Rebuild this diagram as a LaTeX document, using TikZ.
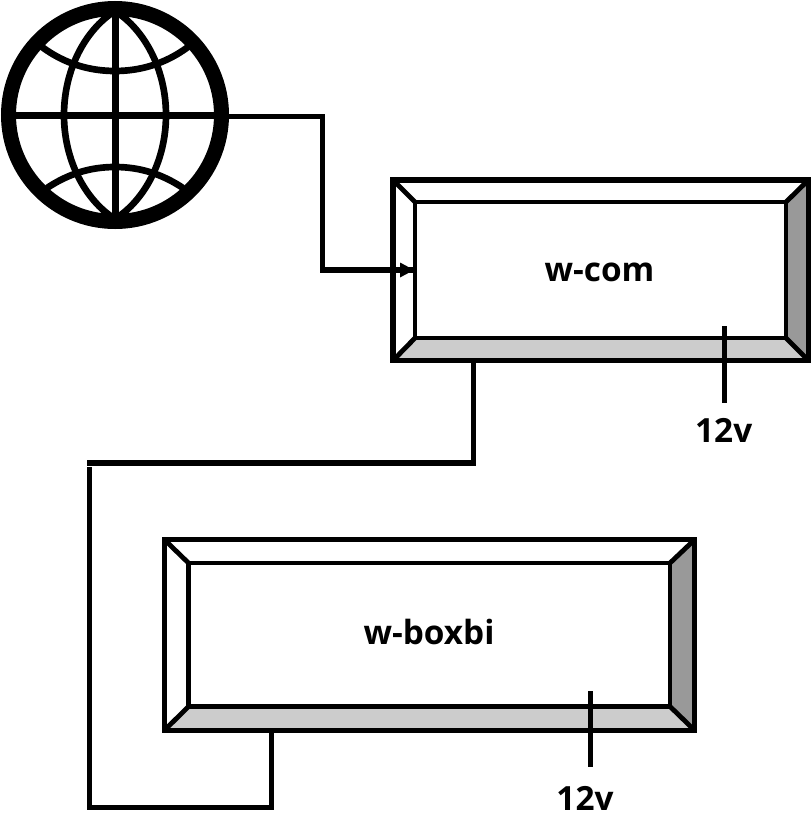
\documentclass[tikz,border=0pt]{standalone}
\usepackage{fontspec}
\setmainfont{Open Sans}
\usetikzlibrary{arrows.meta,backgrounds}
\tikzset{
  x=0.75pt,y=-0.75pt,
  outerbox/.style={draw=black,line width=3.9pt,inner sep=0pt,outer sep=0pt,rectangle},
  innerbox/.style={draw=black,line width=3.2pt,inner sep=0pt,outer sep=0pt,rectangle},
  wire/.style={line width=3.9pt,draw=black,line cap=butt,miter limit=10},
  bevel/.style={line width=3.6pt,draw=black},
  txt/.style={font=\fontsize{25pt}{30pt}\bfseries,inner sep=0pt,anchor=base},
  grid/.style={line width=5pt,draw=black},
}
\definecolor{bevlight}{HTML}{CCCCCC}
\definecolor{bevdark}{HTML}{999999}
\begin{document}
\begin{tikzpicture}
\useasboundingbox (0,0) rectangle (811,839);
% globe
\node[circle,draw=black,line width=11.25pt,minimum size=159.75pt,inner sep=0pt,outer sep=0pt] (globe) at (115,115) {};
\draw[grid,line width=4.6pt] (9,115.5) -- (221,115.5);
\draw[grid,line width=5.25pt] (115,9) -- (115,221);
\draw[grid] (115,11) .. controls (85,30) and (64,70) .. (64,115) .. controls (64,160) and (85,200) .. (115,219);
\draw[grid] (115,11) .. controls (145,30) and (166,70) .. (166,115) .. controls (166,160) and (145,200) .. (115,219);
\draw[grid] (42,47) .. controls (65,64) and (90,71) .. (115,71) .. controls (140,71) and (165,64) .. (188,47);
\draw[grid] (47,188) .. controls (68,174) and (90,167) .. (115,167) .. controls (140,167) and (162,174) .. (183,188);
% w-com
\node[outerbox,minimum width=311.6pt,minimum height=135.4pt] (comout) at (600.75,270.25) {};
\node[innerbox,minimum width=278.25pt,minimum height=102pt] (comin) at (600.5,270) {};
\node[txt] (comtext) at (599.5,281.7) {w-com};
% w-boxbi
\node[outerbox,minimum width=397.5pt,minimum height=142.9pt] (boxout) at (429.5,635) {};
\node[innerbox,minimum width=361.1pt,minimum height=107.6pt] (boxin) at (429.25,634.75) {};
\node[txt] (boxtext) at (429,644.5) {w-boxbi};
\begin{scope}[on background layer]
  \foreach \o/\i in {comout/comin,boxout/boxin}{
    \fill[bevlight] (\o.south west) -- (\o.south east) -- (\i.south east) -- (\i.south west) -- cycle;
    \fill[bevdark] (\o.south east) -- (\o.north east) -- (\i.north east) -- (\i.south east) -- cycle;
  }
\end{scope}
\foreach \o/\i in {comout/comin,boxout/boxin}{
  \draw[bevel] (\o.north west) -- (\i.north west);
  \draw[bevel] (\o.north east) -- (\i.north east);
  \draw[bevel] (\o.south west) -- (\i.south west);
  \draw[bevel] (\o.south east) -- (\i.south east);
}
% labels
\node[txt] (v1) at (723.7,442) {12v};
\node[txt] (v2) at (585,810) {12v};
% connector anchors
\coordinate (gout) at (229,116.5);
\coordinate (c1) at (322.5,270);
\coordinate (c2) at (comin.west);
\coordinate (d1) at (473.5,363);
\coordinate (d2) at (473.5,463);
\coordinate (d3) at (87,463);
\coordinate (e1) at (89.5,467);
\coordinate (e2) at (89.5,807.5);
\coordinate (e3) at (271.5,807.5);
\coordinate (e4) at (271.5,733);
\coordinate (p1a) at (724.5,326);
\coordinate (p1b) at (724.5,403);
\coordinate (p2a) at (590.5,691);
\coordinate (p2b) at (590.5,767);
% connectors
\draw[wire] (gout) -| (c1) -- (c2);
\fill[black] (c2) ++(-1,0) -- ++(-14,-7.5) -- ++(0,15) -- cycle;
\draw[wire] (d1) -- (d2) -- (d3);
\draw[wire] (e1) -- (e2) -- (e3) -- (e4);
\draw[wire] (p1a) -- (p1b);
\draw[wire] (p2a) -- (p2b);
\end{tikzpicture}
\end{document}
